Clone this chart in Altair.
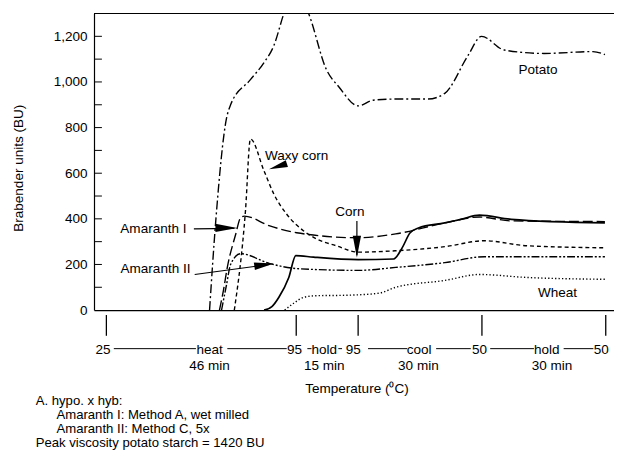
import altair as alt
import pandas as pd

# ---------------- data (minutes from start, Brabender units) ----------------
potato_t = [25.0, 26.5, 29.1, 30.1, 34.9, 38.2, 40.6, 43.0, 45.6, 49.0, 53.3, 56.4, 61.0, 64.6, 70.1, 77.9, 82.0, 87.6, 90.9, 96.4, 106.0, 117.9, 120.8]
potato_bu = [0, 390, 840, 900, 1010, 1085, 1160, 1300, 1420, 1300, 1055, 977, 895, 920, 925, 925, 950, 1115, 1200, 1140, 1125, 1133, 1120]

waxy_t = [31.0, 33.7, 34.9, 38.2, 40.6, 43.7, 47.8, 50.9, 55.7, 61.0, 70.1, 82.0, 91.6, 101.9, 120.8]
waxy_bu = [0, 435, 750, 610, 508, 420, 347, 312, 282, 254, 260, 278, 304, 282, 273]

am1_t = [27.4, 28.4, 29.3, 31.3, 32.5, 33.4, 39.6, 46.1, 61.0, 70.1, 82.0, 90.4, 98.1, 120.8]
am1_bu = [0, 90, 187, 330, 404, 412, 369, 339, 317, 334, 382, 408, 391, 388]

am2_t = [27.9, 29.1, 30.1, 32.5, 39.6, 46.1, 61.0, 70.1, 82.0, 91.6, 120.8]
am2_bu = [0, 110, 200, 247, 204, 182, 174, 187, 208, 234, 234]

corn_t = [38.2, 40.1, 41.8, 44.2, 45.9, 50.2, 61.0, 69.6, 71.7, 73.6, 75.6, 82.0, 86.1, 90.4, 98.1, 120.8]
corn_bu = [0, 15, 56, 143, 239, 232, 221, 224, 274, 339, 360, 382, 399, 416, 398, 382]

wheat_t = [43.2, 45.4, 47.8, 50.9, 58.1, 66.0, 70.1, 82.0, 90.4, 101.9, 120.8]
wheat_bu = [0, 30, 56, 63, 65, 74, 100, 130, 156, 143, 135]

# curve labels
ann_text = ["Amaranth I", "Amaranth II", "Waxy corn", "Corn", "Potato", "Wheat"]
ann_t = [11.4, 11.9, 46.1, 59.0, 104.6, 109.3]
ann_bu = [356, 182, 677, 430, 1051, 74]

# arrow shafts
shaft_t = [21.2, 21.4, 60.7]
shaft_t2 = [31.0, 39.5, 60.7]
shaft_bu = [356, 156, 391]
shaft_bu2 = [358, 200, 240]

# arrow heads (tip positions, direction in degrees, length px)
head_t = [31.7, 40.6, 60.7, 39.4]
head_bu = [360, 204, 230, 617]
head_ang = [0, 352, 90, 162]
head_len = [22, 20, 22, 19]

# temperature program (x axis)
tick_t = [0, 46, 61, 91, 121]
row1_text = ["25", "heat", "95", "hold", "95", "cool", "50", "hold", "50"]
row1_t = [-0.8, 25.0, 45.6, 52.8, 59.8, 75.8, 90.4, 106.7, 119.9]
row2_text = ["46 min", "15 min", "30 min", "30 min"]
row2_t = [25.0, 52.8, 75.6, 108.0]
seg_start = [1.8, 29.3, 48.7, 56.2, 63.4, 79.9, 93.0, 110.8]
seg_end = [21.7, 43.7, 49.7, 57.1, 72.9, 88.3, 103.6, 118.0]

ytick_vals = [100, 200, 300, 400, 500, 600, 700, 800, 900, 1000, 1100, 1200]
ylabel_vals = [0, 200, 400, 600, 800, 1000, 1200]

x_title = "Temperature (⁰C)"
y_title = "Brabender units (BU)"
footnote = ["A. hypo. x hyb:", "Amaranth I: Method A, wet milled",
            "Amaranth II: Method C, 5x", "Peak viscosity potato starch = 1420 BU"]
footnote_indent = [0, 1, 1, 0]

# ---------------- chart ----------------
FONT = "Liberation Sans"
FS = 13.7
FS_FOOT = 13.3
W, H = 526, 300

xscale = alt.Scale(domain=[-3, 123], nice=False, zero=False)
yscale = alt.Scale(domain=[0, 1300], nice=False, zero=False)
xaxis = alt.Axis(labels=False, ticks=False, grid=False, title=None,
                 domainColor="black", domainWidth=1.2)
yaxis = alt.Axis(values=ylabel_vals, format=",d", ticks=False, grid=False, title=y_title,
                 domainColor="black", domainWidth=1.2, labelFont=FONT, labelFontSize=FS,
                 labelColor="black", labelPadding=7,
                 titleFont=FONT, titleFontSize=FS, titleFontWeight="normal", titleColor="black",
                 titleX=-76, titleY=156, titleAngle=-90, titleAlign="center", titleBaseline="middle")


def X(f="t"):
    return alt.X(f"{f}:Q", scale=xscale, axis=xaxis)


def Y(f="bu"):
    return alt.Y(f"{f}:Q", scale=yscale, axis=yaxis)


def curve(ts, bus, dash, width=1.4):
    df = pd.DataFrame({"t": ts, "bu": bus})
    kw = dict(color="black", strokeWidth=width, clip=True, interpolate="monotone")
    if dash:
        kw["strokeDash"] = dash
    return alt.Chart(df).mark_line(**kw).encode(x=X(), y=Y())


layers = [
    curve(potato_t, potato_bu, [9, 3, 2, 3]),
    curve(waxy_t, waxy_bu, [4, 3]),
    curve(am1_t, am1_bu, [10, 4]),
    curve(am2_t, am2_bu, [8, 2, 2, 2, 2, 2]),
    curve(corn_t, corn_bu, None, 1.7),
    curve(wheat_t, wheat_bu, [1.3, 2.2]),
]

# top border
top = alt.Chart(pd.DataFrame({"bu": [1300]})).mark_rule(color="black", strokeWidth=1.2).encode(y=Y())

# inward y ticks
yt = alt.Chart(pd.DataFrame({"bu": ytick_vals})).mark_rule(color="black", strokeWidth=1).encode(
    y=Y(), x=alt.value(0), x2=alt.value(8))

# curve labels
ann = alt.Chart(pd.DataFrame({"t": ann_t, "bu": ann_bu, "txt": ann_text})).mark_text(
    font=FONT, fontSize=FS, color="black", align="center", baseline="middle").encode(
    x=X(), y=Y(), text="txt:N")

shafts = alt.Chart(pd.DataFrame({"t": shaft_t, "t2": shaft_t2, "bu": shaft_bu, "bu2": shaft_bu2})).mark_rule(
    color="black", strokeWidth=1.2).encode(x=X(), x2="t2:Q", y=Y(), y2="bu2:Q")

heads = alt.Chart(pd.DataFrame({"t": head_t, "bu": head_bu, "ang": head_ang,
                                "sz": [l * l for l in head_len]})).mark_point(
    shape="M0,0L-2,-0.38L-2,0.38Z", filled=True, color="black", opacity=1, strokeWidth=0).encode(
    x=X(), y=Y(), angle=alt.Angle("ang:Q", scale=None), size=alt.Size("sz:Q", scale=None))

# x "axis": temperature program
xticks = alt.Chart(pd.DataFrame({"t": tick_t})).mark_rule(color="black", strokeWidth=1.3).encode(
    x=X(), y=alt.value(H + 5), y2=alt.value(H + 26))
segs = alt.Chart(pd.DataFrame({"t": seg_start, "t2": seg_end})).mark_rule(color="black", strokeWidth=1).encode(
    x=X(), x2="t2:Q", y=alt.value(H + 39))
row1 = alt.Chart(pd.DataFrame({"t": row1_t, "txt": row1_text})).mark_text(
    font=FONT, fontSize=FS, color="black", align="center", baseline="middle").encode(
    x=X(), y=alt.value(H + 40), text="txt:N")
row2 = alt.Chart(pd.DataFrame({"t": row2_t, "txt": row2_text})).mark_text(
    font=FONT, fontSize=FS, color="black", align="center", baseline="middle").encode(
    x=X(), y=alt.value(H + 57), text="txt:N")
xt = alt.Chart(pd.DataFrame({"txt": [x_title]})).mark_text(
    font=FONT, fontSize=FS, color="black", align="center", baseline="middle").encode(
    x=alt.value(266), y=alt.value(H + 80), text="txt:N")

foot_layers = []
for i, (line, ind) in enumerate(zip(footnote, footnote_indent)):
    foot_layers.append(
        alt.Chart(pd.DataFrame({"txt": [line]})).mark_text(
            font=FONT, fontSize=FS_FOOT, color="black", align="left", baseline="middle").encode(
            x=alt.value(-59 + 21 * ind), y=alt.value(H + 92 + 14 * i), text="txt:N"))

chart = alt.layer(top, yt, *layers, shafts, heads, ann, xticks, segs, row1, row2, xt, *foot_layers).properties(
    width=W, height=H,
    autosize=alt.AutoSizeParams(type="none"),
    padding={"left": 87, "top": 3, "right": 0, "bottom": 143},
    background="white",
).configure_view(stroke=None)

chart.save("out.html", embed_options={"renderer": "svg", "actions": False})
